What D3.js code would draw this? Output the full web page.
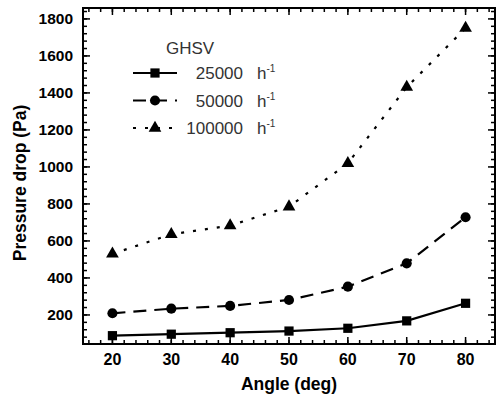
<!DOCTYPE html>
<html>
<head>
<meta charset="utf-8">
<script src="https://cdn.jsdelivr.net/npm/d3@7"></script>
<style>
  body { margin: 0; background: #fff; }
  svg { display: block; }
  text { font-family: "Liberation Sans", Arial, sans-serif; }
</style>
</head>
<body>
<svg id="chart" width="497" height="404"></svg>
<script>
// data
var angles = [20, 30, 40, 50, 60, 70, 80];
var ghsv25000 = [88, 96, 104, 113, 128, 168, 263];
var ghsv50000 = [209, 234, 249, 281, 353, 479, 728];
var ghsv100000 = [530, 636, 683, 785, 1020, 1431, 1750];
var seriesNames = ["25000", "50000", "100000"];
var xTicks = [20, 30, 40, 50, 60, 70, 80];
var yTicks = [200, 400, 600, 800, 1000, 1200, 1400, 1600, 1800];

var width = 497, height = 404;
var margin = {top: 8, right: 2, bottom: 60, left: 83};

var svg = d3.select("#chart");

var x = d3.scaleLinear().domain([15, 85]).range([margin.left, width - margin.right]);
var y = d3.scaleLinear().domain([43, 1859]).range([height - margin.bottom, margin.top]);

var series = [
  {name: seriesNames[0], values: ghsv25000, dash: null, marker: d3.symbolSquare, size: 85},
  {name: seriesNames[1], values: ghsv50000, dash: "13,8", marker: d3.symbolCircle, size: 80},
  {name: seriesNames[2], values: ghsv100000, dash: "3,9", marker: d3.symbolTriangle, size: 70}
];

//minor ticks every 2 deg and every 40 Pa
var xMinor = d3.range(16, 85, 2);
var yMinor = d3.range(80, 1859, 40);

var frame = svg.append("g");

function tickLines(vals, len, side) {
  vals.forEach(function(v) {
    if (side === "bottom") {
      frame.append("line").attr("x1", x(v)).attr("x2", x(v))
        .attr("y1", y.range()[0]).attr("y2", y.range()[0] - len);
    } else if (side === "top") {
      frame.append("line").attr("x1", x(v)).attr("x2", x(v))
        .attr("y1", y.range()[1]).attr("y2", y.range()[1] + len);
    } else if (side === "left") {
      frame.append("line").attr("y1", y(v)).attr("y2", y(v))
        .attr("x1", x.range()[0]).attr("x2", x.range()[0] + len);
    } else {
      frame.append("line").attr("y1", y(v)).attr("y2", y(v))
        .attr("x1", x.range()[1]).attr("x2", x.range()[1] - len);
    }
  });
}

tickLines(xMinor, 4, "bottom");
tickLines(xMinor, 4, "top");
tickLines(xTicks, 7, "bottom");
tickLines(xTicks, 7, "top");
tickLines(yMinor, 4, "left");
tickLines(yMinor, 4, "right");
tickLines(yTicks, 7, "left");
tickLines(yTicks, 7, "right");
frame.selectAll("line").attr("stroke", "#000").attr("stroke-width", 1.5);

frame.append("rect")
  .attr("x", x.range()[0]).attr("y", y.range()[1])
  .attr("width", x.range()[1] - x.range()[0])
  .attr("height", y.range()[0] - y.range()[1])
  .attr("fill", "none").attr("stroke", "#000").attr("stroke-width", 2);

// tick labels
svg.append("g").selectAll("text").data(xTicks).enter().append("text")
  .attr("x", function(d) { return x(d); })
  .attr("y", 365)
  .attr("text-anchor", "middle")
  .attr("font-size", 16).attr("font-weight", "bold")
  .text(function(d) { return d; });

svg.append("g").selectAll("text").data(yTicks).enter().append("text")
  .attr("x", 73)
  .attr("y", function(d) { return y(d) + 5.5; })
  .attr("text-anchor", "end")
  .attr("font-size", 15.5).attr("font-weight", "bold")
  .text(function(d) { return d; });

// axis titles
svg.append("text")
  .attr("x", 289).attr("y", 390)
  .attr("text-anchor", "middle")
  .attr("font-size", 17.5).attr("font-weight", "bold")
  .text("Angle (deg)");

svg.append("text")
  .attr("transform", "translate(26,183) rotate(-90)")
  .attr("text-anchor", "middle")
  .attr("font-size", 17.5).attr("font-weight", "bold")
  .text("Pressure drop (Pa)");

// lines and markers
var line = d3.line()
  .x(function(d, i) { return x(angles[i]); })
  .y(function(d) { return y(d); });

series.forEach(function(s) {
  svg.append("path")
    .datum(s.values)
    .attr("d", line)
    .attr("fill", "none")
    .attr("stroke", "#000")
    .attr("stroke-width", 2.2)
    .attr("stroke-dasharray", s.dash);

  svg.append("g").selectAll("path").data(s.values).enter().append("path")
    .attr("d", d3.symbol().type(s.marker).size(s.size))
    .attr("transform", function(d, i) { return "translate(" + x(angles[i]) + "," + y(d) + ")"; })
    .attr("fill", "#000");
});

// legend
var legend = svg.append("g");
legend.append("text")
  .attr("x", 166).attr("y", 54)
  .attr("font-size", 17).attr("fill", "#333")
  .text("GHSV");

series.forEach(function(s, i) {
  var ly = 73 + i * 27.5;
  legend.append("line")
    .attr("x1", 133).attr("x2", 177)
    .attr("y1", ly).attr("y2", ly)
    .attr("stroke", "#000").attr("stroke-width", 2.2)
    .attr("stroke-dasharray", s.dash);
  legend.append("path")
    .attr("d", d3.symbol().type(s.marker).size(s.size))
    .attr("transform", "translate(155," + ly + ")");
  legend.append("text")
    .attr("x", 243).attr("y", ly + 6)
    .attr("text-anchor", "end")
    .attr("font-size", 17).attr("fill", "#333")
    .text(s.name);
  var h = legend.append("text")
    .attr("x", 257).attr("y", ly + 6)
    .attr("font-size", 17).attr("fill", "#333");
  h.append("tspan").text("h");
  h.append("tspan").attr("dy", -7).attr("font-size", 10).text("-1");
});
</script>
</body>
</html>
